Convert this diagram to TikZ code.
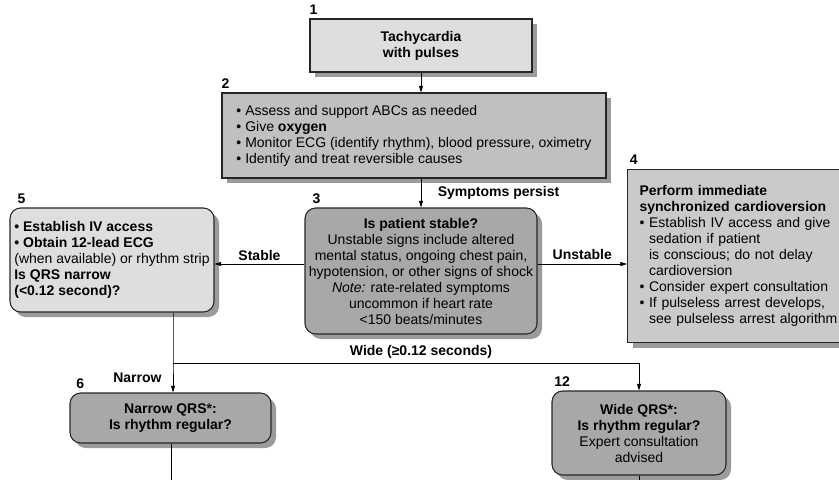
\documentclass[tikz,border=0pt]{standalone}
\usepackage{fontspec}
\setmainfont{Liberation Sans}
\usetikzlibrary{arrows.meta, positioning, shadows, calc}
\definecolor{boxLight}{HTML}{DDDEE0}
\definecolor{boxMid}{HTML}{BFC0C2}
\definecolor{boxPale}{HTML}{C9CACC}
\definecolor{boxDark}{HTML}{A7A8AA}
\definecolor{boxShadow}{HTML}{9A9B9D}
\newcommand\boxfont{\fontsize{10.5}{12}\selectfont}
\newcommand\hang{\hphantom{\textbullet\ }}

\tikzset{
  flowbox/.style={draw=black!85, line width=0.8pt, inner sep=2pt, align=center, font=\boxfont,
    drop shadow={shadow xshift=3.75pt, shadow yshift=-3.75pt, fill=boxShadow, opacity=1}},
  roundbox/.style={flowbox, rounded corners=8pt},
  numlbl/.style={anchor=south west, inner sep=0pt, font=\boxfont\bfseries},
  lbl/.style={font=\boxfont\bfseries},
  arr/.style={-{Triangle[length=5pt,width=3pt]}, line width=0.6pt},
}

\begin{document}
\begin{tikzpicture}[x=0.75pt, y=-0.75pt]
    \useasboundingbox (0,0) rectangle (839,479);
    % boxes
    \node[flowbox, fill=boxLight, minimum width=166.5pt, minimum height=39.75pt, font=\boxfont\bfseries]
      (b1) at (421,45.5) {Tachycardia\\with pulses};
    \node[flowbox, fill=boxMid, minimum width=288pt, minimum height=63.75pt, align=left]
      (b2) at (414,135.5) {\textbullet\ Assess and support ABCs as needed\\
        \textbullet\ Give \textbf{oxygen}\\
        \textbullet\ Monitor ECG (identify rhythm), blood pressure, oximetry\\
        \textbullet\ Identify and treat reversible causes};
    \node[roundbox, fill=boxDark, minimum width=174pt, minimum height=94.5pt, inner sep=1pt]
      (b3) at (421,271) {\textbf{Is patient stable?}\\
        Unstable signs include altered\\
        mental status, ongoing chest pain,\\
        hypotension, or other signs of shock\\
        \textit{Note:} rate-related symptoms\\
        uncommon if heart rate\\
        <150 beats/minutes};
    \node[flowbox, fill=boxPale, anchor=north west, text width=150pt, inner xsep=9pt,
      minimum height=129.75pt, align=left]
      (b4) at (627,169) {\textbf{Perform immediate}\\
        \textbf{synchronized cardioversion}\\
        \textbullet\ Establish IV access and give\\
        \hang sedation if patient\\
        \hang is conscious; do not delay\\
        \hang cardioversion\\
        \textbullet\ Consider expert consultation\\
        \textbullet\ If pulseless arrest develops,\\
        \hang see pulseless arrest algorithm};
    \node[roundbox, fill=boxLight, minimum width=153pt, minimum height=78pt, inner sep=1pt, align=left]
      (b5) at (112,260) {\textbf{\textbullet\ Establish IV access}\\
        \textbf{\textbullet\ Obtain 12-lead ECG}\\
        (when available) or rhythm strip\\
        \textbf{Is QRS narrow}\\
        \textbf{(<0.12 second)?}};
    \node[roundbox, fill=boxDark, minimum width=150.75pt, minimum height=37.5pt, font=\boxfont\bfseries]
      (b6) at (170.5,418) {Narrow QRS*:\\Is rhythm regular?};
    \node[roundbox, fill=boxDark, minimum width=130.5pt, minimum height=63pt]
      (b12) at (639,433) {\textbf{Wide QRS*:}\\\textbf{Is rhythm regular?}\\Expert consultation\\advised};
    % step numbers
    \foreach \n/\bx/\dx in {1/b1/0, 2/b2/0, 3/b3/6, 4/b4/2, 5/b5/6, 6/b6/5, 12/b12/2}
      \node[numlbl] at ([xshift=\dx pt, yshift=3pt]\bx.north west) {\n};
    % connectors
    \coordinate (side) at (0,264);
    \coordinate (split) at (173,363);
    \coordinate (tail) at (171,485);
    \draw[arr] (b1.south) -- (b1.south |- b2.north);
    \draw[arr] (b2.south -| b3.north) -- node[lbl, right=9pt] {Symptoms persist} (b3.north);
    \draw[arr] (b3.west |- side) -- node[lbl, above=-1pt] {Stable} (b5.east |- side);
    \draw[arr] (b3.east |- side) -- node[lbl, above] {Unstable} (b4.west |- side);
    \draw[arr] (b5.south -| split) -- (split) -- node[lbl, left=5pt] {Narrow} (b6.north -| split);
    \draw[arr] (split) -| (b12.north);
    \node[lbl, above] at (b3.south |- split) {Wide (≥0.12 seconds)};
    \draw[line width=0.6pt] (b6.south -| tail) -- (tail);
    \draw[line width=0.6pt] (b12.south) -- (b12.south |- tail);
\end{tikzpicture}
\end{document}
